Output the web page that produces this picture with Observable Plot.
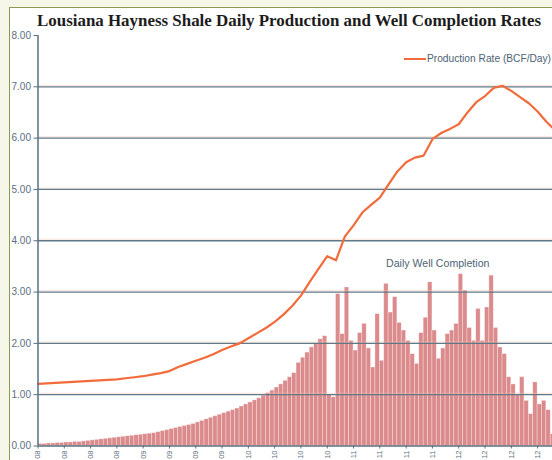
<!DOCTYPE html>
<html>
<head>
<meta charset="utf-8">
<script src="https://cdn.jsdelivr.net/npm/d3@7"></script>
<script src="https://cdn.jsdelivr.net/npm/@observablehq/plot@0.6"></script>
<style>
  html, body { margin: 0; padding: 0; width: 552px; height: 460px; overflow: hidden; background: #f6f7e8; }
  #frame { position: absolute; left: 9px; top: 7px; width: 600px; height: 500px; background: #ffffff;
           border-left: 1.5px solid #8a9a52; border-top: 1.5px solid #8a9a52; }
  #titlebox { position: absolute; left: 0; top: 0; }
  #chart { position: absolute; left: 0; top: 0; }
  #legend { position: absolute; left: 404px; top: 53px; font: 10.2px "Liberation Sans", Arial, sans-serif; color: #4d6373; white-space: nowrap; }
  #legend .sw { display: inline-block; width: 22px; height: 2px; background: #f26b3a; vertical-align: middle; margin-right: 1px; }
  #note { position: absolute; left: 386px; top: 257px; font: 10.6px "Liberation Sans", Arial, sans-serif; color: #4d6373; white-space: nowrap; }
</style>
</head>
<body>
<div id="frame"></div>
<div id="chart"></div>
<svg id="titlebox" width="552" height="34">
  <text x="37" y="26" textLength="504" lengthAdjust="spacingAndGlyphs"
        font-family="Liberation Serif, serif" font-weight="bold" font-size="16.5" fill="#1c1c1c">Lousiana Hayness Shale Daily Production and Well Completion Rates</text>
</svg>
<div id="legend"><span class="sw"></span>Production Rate (BCF/Day)</div>
<div id="note">Daily Well Completion</div>
<script>
// Quarterly ticks (month offsets from Jan 2008); labels show the year
const tickMonths = [0,3,6,9,12,15,18,21,24,27,30,33,36,39,42,45,48,51,54,57];
const tickLabels = ["08","08","08","08","09","09","09","09",
                    "10","10","10","10","11","11","11","11",
                    "12","12","12","12"];

// Production rate (BCF/Day), monthly from Jan 2008
const productionRate = [1.21,1.22,1.23,1.24,1.25,1.26,1.27,1.28,1.29,1.30,
                        1.32,1.34,1.36,1.39,1.42,1.46,1.54,1.60,1.66,1.72,
                        1.79,1.87,1.94,2.00,2.10,2.20,2.30,2.42,2.56,2.73,
                        2.93,3.20,3.45,3.70,3.62,4.08,4.30,4.55,4.70,4.84,
                        5.10,5.35,5.53,5.62,5.66,5.98,6.10,6.18,6.27,6.50,
                        6.70,6.82,6.98,7.02,6.92,6.80,6.68,6.52,6.32,6.15];

// Daily well completions, half-month periods from Jan 2008
const wellCompletions = [0.04,0.04,0.05,0.05,0.06,0.06,0.07,0.07,0.08,0.08,
                         0.09,0.10,0.11,0.12,0.13,0.14,0.15,0.16,0.17,0.18,
                         0.19,0.20,0.21,0.22,0.23,0.24,0.25,0.27,0.29,0.31,
                         0.33,0.35,0.37,0.39,0.41,0.43,0.46,0.49,0.52,0.55,
                         0.58,0.61,0.64,0.67,0.70,0.73,0.77,0.81,0.85,0.89,
                         0.93,0.98,1.03,1.08,1.14,1.20,1.27,1.34,1.42,1.62,
                         1.72,1.82,1.92,2.00,2.08,2.14,1.00,0.95,2.96,2.18,
                         3.09,2.05,1.86,2.20,2.38,1.90,1.53,2.57,1.66,3.16,
                         2.60,2.90,2.40,2.25,2.05,1.79,1.60,2.20,2.50,3.19,
                         2.25,1.70,1.90,2.18,2.25,2.38,3.35,3.03,2.30,2.05,
                         2.67,2.05,2.70,3.32,2.30,1.92,1.79,1.34,1.20,1.00,
                         1.34,0.88,0.62,1.24,0.81,0.88,0.70,0.23];

const gridValues = [1,2,3,4,5,6,7];
const yTicks = [0,1,2,3,4,5,6,7,8];

const prod = productionRate.map((v, i) => ({m: i, v}));
const bars = wellCompletions.map((v, i) => ({x1: i * 0.5, x2: i * 0.5 + 0.5, v}));

const axisColor = "#56707f";
const textColor = "#5a6e7e";

const chart = Plot.plot({
  width: 552,
  height: 460,
  marginLeft: 37.5,
  marginRight: 0,
  marginTop: 35,
  marginBottom: 14.5,
  style: {background: "transparent", fontFamily: "Liberation Sans, Arial, sans-serif", fontSize: "10px", overflow: "hidden"},
  x: {domain: [0, 58.7], label: null},
  y: {domain: [0, 8], label: null},
  marks: [
    Plot.rectY(bars, {x1: "x1", x2: "x2", y: "v", fill: "#d26a6d", fillOpacity: 0.78, stroke: "#ffffff", strokeOpacity: 0.45, strokeWidth: 0.7}),
    Plot.ruleY(gridValues, {stroke: "#f2c4ae", strokeOpacity: 0.45, strokeWidth: 1, dy: -1.5}),
    Plot.ruleY(gridValues, {stroke: "#5f7888", strokeWidth: 1.3}),
    Plot.line(prod, {x: "m", y: "v", stroke: "#f26b3a", strokeWidth: 2.2}),
    Plot.ruleX([0], {y1: 0, y2: 8, stroke: axisColor, strokeWidth: 1.5}),
    Plot.ruleY([0], {stroke: axisColor, strokeWidth: 1.5}),
    Plot.axisY({ticks: yTicks, tickFormat: d3.format(".2f"), tickSize: 4, tickPadding: 3, stroke: axisColor, fill: textColor, fontSize: 10, label: null}),
    Plot.axisX({ticks: tickMonths, tickFormat: (d, i) => tickLabels[i], tickRotate: -90, tickSize: 3, tickPadding: 1.5, stroke: axisColor, fill: textColor, fontSize: 7.5, label: null})
  ]
});
document.getElementById("chart").appendChild(chart);
</script>
</body>
</html>
